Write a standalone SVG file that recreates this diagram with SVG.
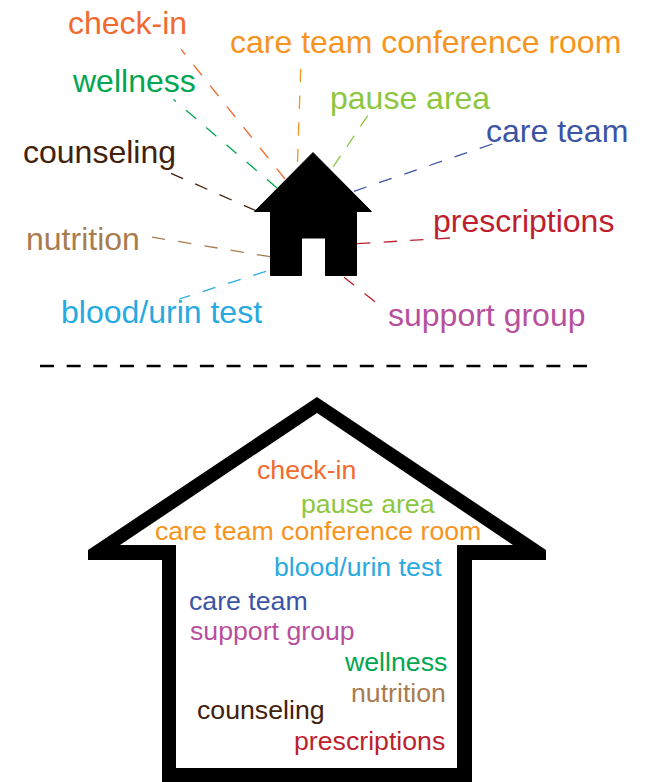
<svg xmlns="http://www.w3.org/2000/svg" width="646" height="782" viewBox="0 0 646 782">
<style>
text{font-family:"Liberation Sans",Arial,sans-serif}
.t{font-size:32px}
.s{font-size:26.7px}
.c{fill:none;stroke-width:1.3;stroke-dasharray:13.3 13.3}
.checkin{fill:#F26A2E}.conf{fill:#F7941E}.pause{fill:#8DC63F}.team{fill:#3B54A4}.rx{fill:#BE1E2D}.sup{fill:#B84F9E}.blood{fill:#27AAE1}.nut{fill:#A97C50}.couns{fill:#42210B}.well{fill:#00A651}
</style>
<rect width="646" height="782" fill="#fff"/>
<g id="connectors">
<line class="c" x1="285" y1="179" x2="181" y2="49.3" stroke="#F26A2E"/>
<line class="c" x1="300.7" y1="69" x2="297.5" y2="162" stroke="#F7941E"/>
<line class="c" x1="367.7" y1="115.7" x2="331" y2="170" stroke="#8DC63F" style="stroke-dasharray:13 11.3"/>
<line class="c" x1="492.3" y1="144" x2="352.7" y2="191.7" stroke="#3B54A4"/>
<line class="c" x1="450" y1="238" x2="356.7" y2="243.7" stroke="#BE1E2D"/>
<line class="c" x1="375" y1="301.7" x2="344" y2="277.3" stroke="#BE1E2D"/>
<line class="c" x1="266" y1="271.3" x2="179.3" y2="299" stroke="#27AAE1"/>
<line class="c" x1="270" y1="256.7" x2="151.3" y2="237" stroke="#A97C50"/>
<line class="c" x1="256" y1="210.7" x2="171" y2="173.3" stroke="#42210B"/>
<line class="c" x1="277" y1="188" x2="173.5" y2="99.5" stroke="#00A651"/>
<line x1="40" y1="366" x2="587" y2="366" stroke="#000" stroke-width="2.6" stroke-dasharray="14 12.65"/>
</g>
<g id="small-house"><path d="M313 152.5L371.5 211.5H356.5V275.5H325.5V238H301.5V275.5H270.5V211.5H254.5Z" fill="#000" stroke="#000" stroke-width="1" stroke-linejoin="round"/></g>
<g id="large-house"><path fill-rule="evenodd" d="M317 397L546 550V560H472V782H162V560H88V550ZM317 413L120 545H176V768H457V545H513Z" fill="#000"/></g>
<g id="labels-top">
<text class="t checkin" x="68" y="34">check-in</text>
<text class="t conf" x="230" y="53">care team conference room</text>
<text class="t well" x="73" y="92">wellness</text>
<text class="t pause" x="330" y="109">pause area</text>
<text class="t team" x="486" y="142">care team</text>
<text class="t couns" x="23" y="163">counseling</text>
<text class="t rx" x="433" y="232">prescriptions</text>
<text class="t nut" x="26" y="250">nutrition</text>
<text class="t blood" x="61" y="323">blood/urin test</text>
<text class="t sup" x="388" y="326">support group</text>
</g>
<g id="labels-bottom">
<text class="s checkin" x="257" y="479">check-in</text>
<text class="s pause" x="301" y="513">pause area</text>
<text class="s conf" x="155" y="540">care team conference room</text>
<text class="s blood" x="274" y="576">blood/urin test</text>
<text class="s team" x="189" y="610">care team</text>
<text class="s sup" x="190" y="640">support group</text>
<text class="s well" x="345" y="671">wellness</text>
<text class="s nut" x="351" y="702">nutrition</text>
<text class="s couns" x="197" y="719">counseling</text>
<text class="s rx" x="294" y="750">prescriptions</text>
</g>
</svg>
